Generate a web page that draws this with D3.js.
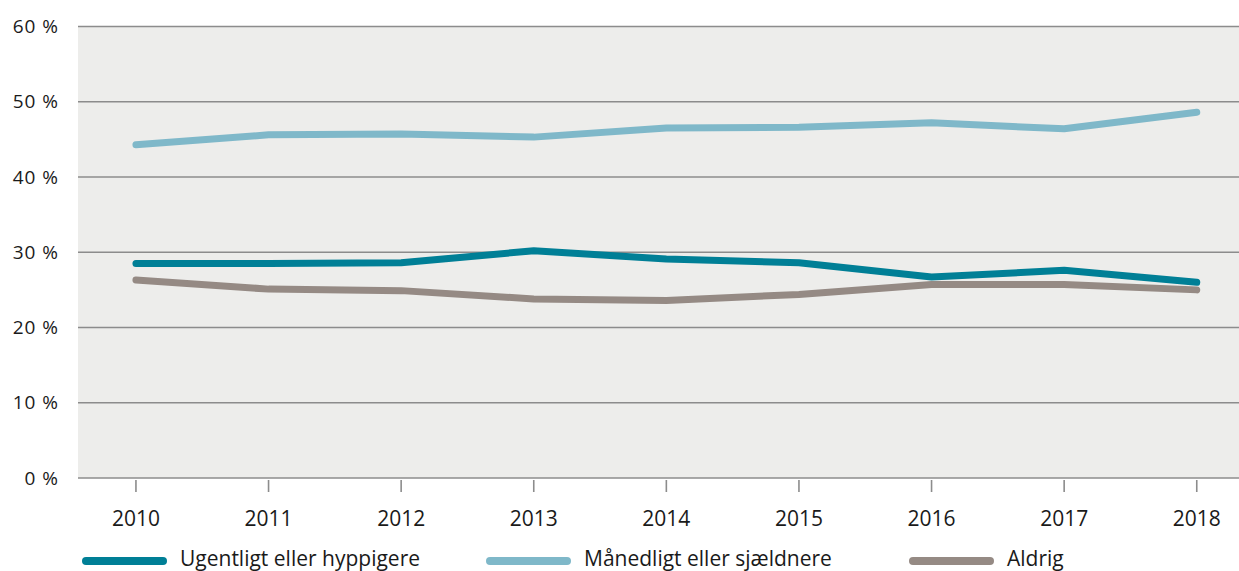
<!DOCTYPE html>
<html><head><meta charset="utf-8">
<script src="https://cdn.jsdelivr.net/npm/d3@7"></script>
<style>body{margin:0;background:#fff}svg{display:block}text{font-family:"Open Sans",Roboto,sans-serif;fill:#1a1a1a}</style>
</head><body>
<svg id="c" width="1239" height="571"></svg>
<script>
const years = [2010, 2011, 2012, 2013, 2014, 2015, 2016, 2017, 2018];
const yTicks = [0, 10, 20, 30, 40, 50, 60];
const seriesNames = ["Ugentligt eller hyppigere", "Månedligt eller sjældnere", "Aldrig"];
const ugentligt = [28.5, 28.5, 28.6, 30.2, 29.1, 28.6, 26.7, 27.6, 26.0];
const maanedligt = [44.3, 45.6, 45.7, 45.3, 46.5, 46.6, 47.2, 46.4, 48.6];
const aldrig = [26.3, 25.1, 24.9, 23.8, 23.6, 24.4, 25.7, 25.7, 25.0];
const colors = ["#007f96", "#7fb8c9", "#958a84"];

(function () {
const svg = d3.select("#c");
const pLeft = 78, pRight = 1239, pTop = 26.5, pBottom = 478;
const x = d3.scalePoint().domain(years).range([pLeft, 1254.7]).padding(0.437);
const y = d3.scaleLinear().domain([0, 60]).range([pBottom, pTop]);

svg.append("rect").attr("x", pLeft).attr("y", pTop).attr("width", pRight - pLeft).attr("height", pBottom - pTop).attr("fill", "#ededeb");

svg.append("g").selectAll("line").data(yTicks).join("line")
  .attr("x1", pLeft).attr("x2", pRight).attr("y1", d => y(d)).attr("y2", d => y(d))
  .attr("stroke", "#8c8c8c").attr("stroke-width", 1.6);

svg.append("g").selectAll("text").data(yTicks).join("text")
  .attr("x", 59).attr("y", d => y(d)).attr("dy", "0.35em").attr("text-anchor", "end")
  .attr("font-size", 19).attr("letter-spacing", 1).text(d => d + " %");

svg.append("g").selectAll("line").data(years).join("line")
  .attr("x1", d => x(d)).attr("x2", d => x(d)).attr("y1", pBottom + 2).attr("y2", pBottom + 14)
  .attr("stroke", "#8c8c8c").attr("stroke-width", 1.6);
svg.append("g").selectAll("text").data(years).join("text")
  .attr("x", d => x(d)).attr("y", 526).attr("text-anchor", "middle")
  .attr("font-size", 21).text(d => d);

const data = [ugentligt, maanedligt, aldrig];
const line = d3.line().x((d, i) => x(years[i])).y(d => y(d));
[2, 0, 1].forEach(k => {
  svg.append("path").datum(data[k]).attr("d", line).attr("fill", "none")
    .attr("stroke", colors[k]).attr("stroke-width", 7).attr("stroke-linecap", "round").attr("stroke-linejoin", "round");
});

const legX = [83, 487, 910];
seriesNames.forEach((n, i) => {
  svg.append("line").attr("x1", legX[i] + 3).attr("x2", legX[i] + 80).attr("y1", 561).attr("y2", 561)
    .attr("stroke", colors[i]).attr("stroke-width", 8).attr("stroke-linecap", "round");
  svg.append("text").attr("x", legX[i] + 97).attr("y", 566).attr("font-size", 21).text(n);
});
})();
</script>
</body></html>
